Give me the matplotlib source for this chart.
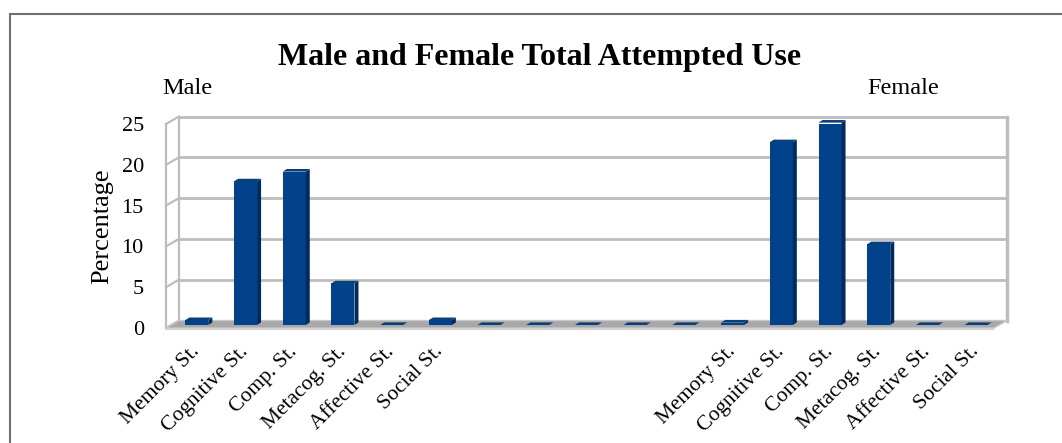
import matplotlib.pyplot as plt
from matplotlib.patches import Polygon, Rectangle

plt.rcParams['font.family'] = ['Liberation Serif', 'DejaVu Serif']

# categories: six male strategies, five empty slots, six female strategies
strategies = ['Memory St.', 'Cognitive St.', 'Comp. St.', 'Metacog. St.',
              'Affective St.', 'Social St.']
gap_labels = ['', '', '', '', '']
male_values = [0.6, 17.6, 18.8, 5.1, 0.0, 0.6]
gap_values = [0.0, 0.0, 0.0, 0.0, 0.0]
female_values = [0.3, 22.4, 24.8, 9.9, 0.0, 0.0]
yticks = [0, 5, 10, 15, 20, 25]

labels = strategies + gap_labels + strategies
values = male_values + gap_values + female_values
n = len(values)

W, H = 1062, 443
fig = plt.figure(figsize=(W / 100, H / 100), dpi=100)

# outer chart frame
fig.patches.append(Rectangle((10 / W, -0.1), 1.2, (H - 14) / H + 0.1,
                             transform=fig.transFigure, fill=False,
                             edgecolor='#707070', linewidth=1.5))

# axes = front plane of the 3-D box
ax_left, ax_right, ax_bot, ax_top = 166, 994, 328, 124
ax = fig.add_axes([ax_left / W, (H - ax_bot) / H,
                   (ax_right - ax_left) / W, (ax_bot - ax_top) / H])
ax.set_xlim(-0.5, n - 0.5)
ax.set_ylim(0, 25)
for s in ax.spines.values():
    s.set_visible(False)

px_x = (ax_right - ax_left) / n      # pixels per category
px_y = (ax_bot - ax_top) / 25        # pixels per percent
DX, DY = 13 / px_x, 7.5 / px_y       # depth of the box

grid_c = '#BDBDBD'
x0, x1 = -0.5, n - 0.5

# floor
ax.add_patch(Polygon([(x0, 0), (x1, 0), (x1 + DX, DY), (x0 + DX, DY)],
                     closed=True, facecolor='#A8A8A8', edgecolor='#C8C8C8',
                     lw=1, clip_on=False, zorder=1))
ax.add_patch(Polygon([(x0, 0), (x1, 0), (x1, -0.25), (x0, -0.25)],
                     closed=True, facecolor='#D0D0D0', edgecolor='none',
                     clip_on=False, zorder=1))

# back wall grid and outline
for v in yticks[1:]:
    ax.plot([x0 + DX, x1 + DX], [v + DY, v + DY], color=grid_c, lw=2,
            clip_on=False, zorder=0.5)
    ax.plot([x0, x0 + DX], [v, v + DY], color=grid_c, lw=1.6,
            clip_on=False, zorder=0.5)
ax.plot([x1 + DX, x1 + DX], [DY, 25 + DY], color=grid_c, lw=2.5,
        clip_on=False, zorder=0.5)
ax.plot([x0 + DX, x0 + DX], [DY, 25 + DY], color=grid_c, lw=1.6,
        clip_on=False, zorder=0.5)
ax.plot([x0, x0], [0, 25], color=grid_c, lw=1.6, clip_on=False, zorder=0.5)
ax.plot([x0, x0 + DX], [0, DY], color=grid_c, lw=1.6, clip_on=False, zorder=0.5)

# 3-D columns
bw = 23 / px_x
fx, fy = 6.5 / px_x, 3 / px_y      # front face offset from front plane
bdx, bdy = 4 / px_x, 2.6 / px_y    # column depth
centers = [i + fx for i in range(n)]
ax.bar(centers, values, width=bw, bottom=fy, color='#02428A',
       edgecolor='none', zorder=3)
for c, v in zip(centers, values):
    l, r = c - bw / 2, c + bw / 2
    top = fy + v
    ax.add_patch(Polygon([(r, fy), (r + bdx, fy + bdy), (r + bdx, top + bdy), (r, top)],
                         closed=True, facecolor='#002B5E', edgecolor='none',
                         zorder=3, clip_on=False))
    ax.add_patch(Polygon([(l, top), (r, top), (r + bdx, top + bdy), (l + bdx, top + bdy)],
                         closed=True, facecolor='#0A3F7A', edgecolor='none',
                         zorder=3, clip_on=False))

# axis ticks and labels
ax.set_yticks(yticks)
ax.tick_params(axis='y', length=0, pad=16, labelsize=16)
ax.set_xticks(centers)
ax.set_xticklabels(labels, rotation=45, ha='right', va='center',
                   rotation_mode='anchor', fontsize=15.5)
ax.tick_params(axis='x', length=0, pad=15)
ax.set_ylabel('Percentage', fontsize=19, labelpad=6)

fig.text(540 / W, (H - 57) / H, 'Male and Female Total Attempted Use',
         ha='center', va='center', fontsize=23, fontweight='bold')
fig.text(187 / W, (H - 89) / H, 'Male', ha='center', va='center', fontsize=17.5)
fig.text(903 / W, (H - 88) / H, 'Female', ha='center', va='center', fontsize=17.5)

fig.savefig('out.png', dpi=100)
